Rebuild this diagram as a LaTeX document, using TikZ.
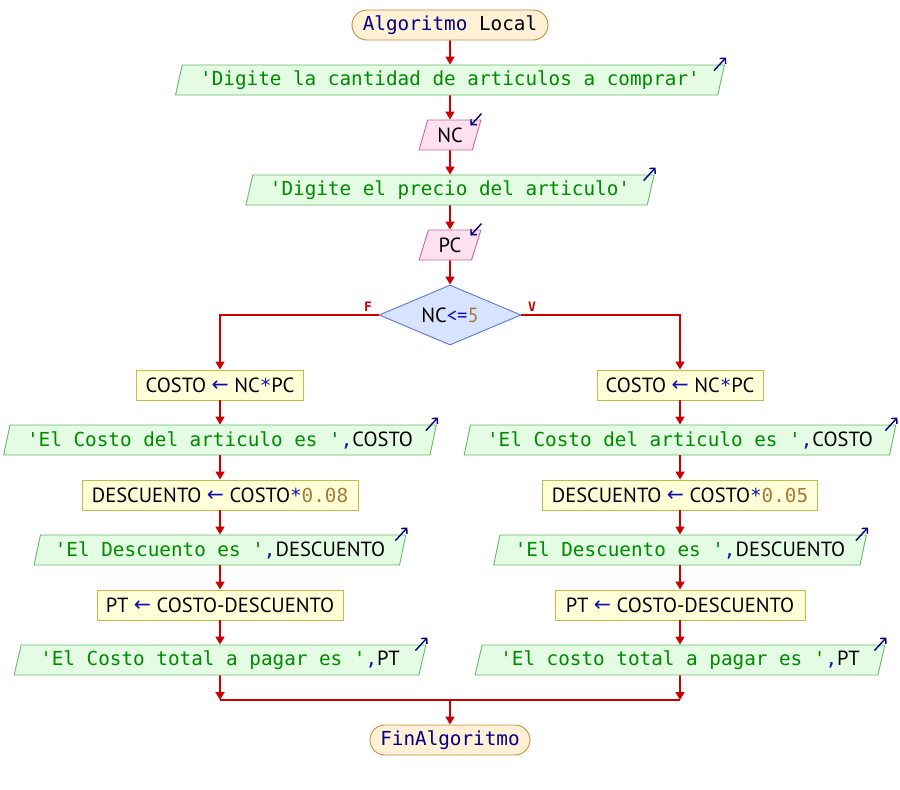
\documentclass[tikz,border=0pt]{standalone}
\usepackage{fontspec}
\setmainfont{PT Sans}
\newfontfamily\pmono{DejaVu Sans Mono}
\newfontfamily\parrowfont{DejaVu Sans}
\usetikzlibrary{shapes.geometric,arrows.meta,calc}
\definecolor{flowc}{HTML}{CC0000}
\definecolor{strc}{HTML}{008A00}
\definecolor{kwc}{HTML}{000080}
\definecolor{opc}{HTML}{1010B0}
\definecolor{numc}{HTML}{A8783A}
\definecolor{termf}{HTML}{FFF0D6}
\definecolor{termd}{HTML}{C88A3A}
\definecolor{outf}{HTML}{E4FBE4}
\definecolor{outd}{HTML}{66BB66}
\definecolor{inf}{HTML}{FFE0EE}
\definecolor{ind}{HTML}{CC6699}
\definecolor{procf}{HTML}{FFFFD8}
\definecolor{procd}{HTML}{C8B848}
\definecolor{decf}{HTML}{D8E4FF}
\definecolor{decd}{HTML}{5A78D8}
\newcommand{\pstr}[1]{{\pmono\fontsize{19.3}{22}\selectfont\color{strc}#1}}
\newcommand{\pkw}[1]{{\pmono\fontsize{19.3}{22}\selectfont\color{kwc}#1}}
\newcommand{\pop}[1]{{\color{opc}#1}}
\newcommand{\pcom}[1]{{\pmono\fontsize{19.3}{22}\selectfont\color{opc}#1}}
\newcommand{\pnumb}[1]{{\pmono\fontsize{19.3}{22}\selectfont\color{numc}#1}}
\newcommand{\parr}{{\parrowfont\color{opc}\raisebox{0.5pt}{←}}}
\tikzset{
  base/.style={font=\fontsize{20.5}{24}\selectfont, inner sep=0pt, minimum height=30, line width=0.9},
  term/.style={base, rectangle, rounded corners=15, draw=termd, fill=termf},
  outp/.style={base, trapezium, trapezium left angle=71.6, trapezium right angle=108.4, trapezium stretches=true, draw=outd, fill=outf},
  inp/.style={base, trapezium, trapezium left angle=71.6, trapezium right angle=108.4, trapezium stretches=true, draw=ind, fill=inf},
  proc/.style={base, rectangle, draw=procd, fill=procf},
  dec/.style={base, diamond, shape aspect=2.4, draw=decd, fill=decf, minimum width=142, minimum height=60},
  flow/.style={draw=flowc, line width=1.6, -{Triangle[length=8,width=9]}},
  flowline/.style={draw=flowc, line width=1.6},
  icon/.style={draw=kwc, line width=1.4, -{Straight Barb[length=4,width=8]}},
  lbl/.style={font=\pmono\bfseries\fontsize{13}{15}\selectfont, text=flowc, inner sep=0pt}
}
\begin{document}
\begin{tikzpicture}[x=1pt,y=-1pt]
\useasboundingbox (0,0) rectangle (900,790);
% main chain
\node[term, minimum width=196] (start) at (450,25) {\pkw{Algoritmo}{\pmono\fontsize{19.3}{22}\selectfont\ Local}};
\node[outp, minimum width=553] (o1) at (450,80) {\pstr{'Digite la cantidad de articulos a comprar'}};
\node[inp, minimum width=62] (nc) at (450,135) {NC};
\node[outp, minimum width=410] (o2) at (450,190) {\pstr{'Digite el precio del articulo'}};
\node[inp, minimum width=62] (pc) at (450,245) {PC};
\node[dec] (d) at (450,315) {NC\pop{<=}{\color{numc}5}};
\node[lbl] (F) at (368,307) {F};
\node[lbl] (V) at (532,307) {V};
% left branch
\node[proc, minimum width=167] (lc) at (220,385) {COSTO \parr\ NC\pcom{*}PC};
\node[outp, minimum width=435] (l1) at (220,440) {\pstr{'El Costo del articulo es '}\pcom{,}COSTO};
\node[proc, minimum width=276] (ld) at (220,495) {DESCUENTO \parr\ COSTO\pcom{*}\pnumb{0.08}};
\node[outp, minimum width=373] (l2) at (220,550) {\pstr{'El Descuento es '}\pcom{,}DESCUENTO};
\node[proc, minimum width=246] (lp) at (220,605) {PT \parr\ COSTO-DESCUENTO};
\node[outp, minimum width=412] (l3) at (220,660) {\pstr{'El Costo total a pagar es '}\pcom{,}PT};
% right branch
\node[proc, minimum width=166] (rc) at (680,385) {COSTO \parr\ NC\pcom{*}PC};
\node[outp, minimum width=434] (r1) at (680,440) {\pstr{'El Costo del articulo es '}\pcom{,}COSTO};
\node[proc, minimum width=275] (rd) at (680,495) {DESCUENTO \parr\ COSTO\pcom{*}\pnumb{0.05}};
\node[outp, minimum width=374] (r2) at (680,550) {\pstr{'El Descuento es '}\pcom{,}DESCUENTO};
\node[proc, minimum width=250] (rp) at (680,605) {PT \parr\ COSTO-DESCUENTO};
\node[outp, minimum width=410] (r3) at (680,660) {\pstr{'El costo total a pagar es '}\pcom{,}PT};
% end
\node[term, minimum width=160] (fin) at (450,740) {\pkw{FinAlgoritmo}};
\coordinate (jl) at (220,700);
\coordinate (jr) at (680,700);
\coordinate (jm) at (450,700);
% connectors
\draw[flow] (start.south) -- (o1.north);
\draw[flow] (o1.south) -- (nc.north);
\draw[flow] (nc.south) -- (o2.north);
\draw[flow] (o2.south) -- (pc.north);
\draw[flow] (pc.south) -- (d.north);
\draw[flow] (d.west) -| (lc.north);
\draw[flow] (d.east) -| (rc.north);
\foreach \a/\b in {lc/l1,l1/ld,ld/l2,l2/lp,lp/l3,rc/r1,r1/rd,rd/r2,r2/rp,rp/r3}{
  \draw[flow] (\a.south) -- (\a.south |- \b.north);
}
\draw[flow] (l3.south) -- (jl);
\draw[flow] (r3.south) -- (jr);
\draw[flowline, line width=2.4] (jl) -- (jr);
\draw[flow] (jm) -- (fin.north);
% io icons
\foreach \n in {o1,o2,l1,l2,l3,r1,r2,r3}{
  \draw[icon] ($(\n.top right corner)+(-11,6)$) -- ($(\n.top right corner)+(1,-7)$);
}
\foreach \n in {nc,pc}{
  \draw[icon] ($(\n.top right corner)+(0,-6)$) -- ($(\n.top right corner)+(-11,6)$);
}
\end{tikzpicture}
\end{document}
